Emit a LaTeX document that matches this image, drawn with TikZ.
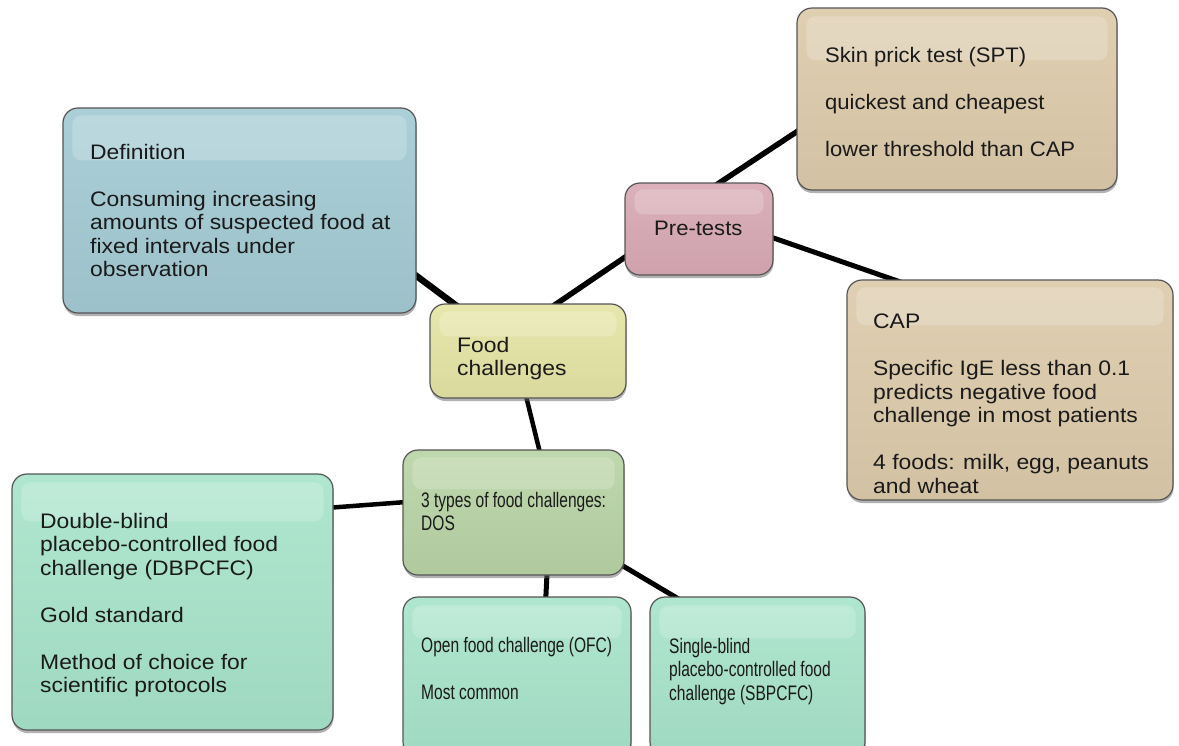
\documentclass[tikz,border=0pt]{standalone}
\usepackage{fontspec}
\setmainfont{Liberation Sans}
\newfontfamily\fW[FakeStretch=1.09]{Liberation Sans}
\newfontfamily\fS[FakeStretch=1.05]{Liberation Sans}
\newfontfamily\fN[FakeStretch=0.74]{Liberation Sans}
\usetikzlibrary{shadows,calc,backgrounds}
\definecolor{boxline}{HTML}{555555}
\definecolor{textc}{HTML}{1A1A1A}
\definecolor{cblue}{HTML}{A4CBD4}
\definecolor{cyel}{HTML}{E5E5A6}
\definecolor{cpink}{HTML}{D9AAB5}
\definecolor{ctan}{HTML}{DDCBAB}
\definecolor{cgreen}{HTML}{B9D4A6}
\definecolor{cmint}{HTML}{A8E4CB}
\begin{document}
\begin{tikzpicture}[x=1pt,y=-1pt,
  box/.style={draw=boxline, line width=1.2pt, rounded corners=15pt, inner sep=0pt,
    top color=#1!92!white, bottom color=#1!95!black,
    drop shadow={shadow xshift=0.5pt, shadow yshift=-3pt, opacity=0.5, fill=black!60}},
  gloss/.style={fill=white, fill opacity=0.2, rounded corners=9pt},
  conn/.style={line width=5.5pt, draw=black},
  txt/.style={inner sep=0pt, anchor=north west, align=left, text=textc},
  fw/.style={font=\fW\fontsize{21}{23.5}\selectfont},
  fs/.style={font=\fS\fontsize{21}{23.5}\selectfont},
  fn/.style={font=\fN\fontsize{21}{23.5}\selectfont}]
\useasboundingbox (0,0) rectangle (1179,745);

% boxes
\node[box=cblue, minimum width=353pt, minimum height=205pt] (def) at (239.5,210.5) {};
\node[box=cyel, minimum width=196pt, minimum height=94pt] (food) at (528,351) {};
\node[box=cpink, minimum width=148pt, minimum height=92pt] (pre) at (699,229) {};
\node[box=ctan, minimum width=320pt, minimum height=182pt] (spt) at (957,99) {};
\node[box=ctan, minimum width=326pt, minimum height=220pt] (cap) at (1010,390) {};
\node[box=cgreen, minimum width=221pt, minimum height=125pt] (t3) at (513.5,512.5) {};
\node[box=cmint, minimum width=321pt, minimum height=256pt] (db) at (172.5,602) {};
\node[box=cmint, minimum width=228pt, minimum height=160pt] (ofc) at (517,677) {};
\node[box=cmint, minimum width=215pt, minimum height=160pt] (sb) at (757.5,677) {};

% gloss bands
\fill[gloss] ($(def.north west)+(10,8)$) rectangle ($(def.north east)+(-10,53)$);
\fill[gloss] ($(food.north west)+(10,8)$) rectangle ($(food.north east)+(-10,33)$);
\fill[gloss] ($(pre.north west)+(10,7)$) rectangle ($(pre.north east)+(-10,32)$);
\fill[gloss] ($(spt.north west)+(10,9)$) rectangle ($(spt.north east)+(-10,53)$);
\fill[gloss] ($(cap.north west)+(10,8)$) rectangle ($(cap.north east)+(-10,46)$);
\fill[gloss] ($(t3.north west)+(10,8)$) rectangle ($(t3.north east)+(-10,40)$);
\fill[gloss] ($(db.north west)+(10,9)$) rectangle ($(db.north east)+(-10,48)$);
\fill[gloss] ($(ofc.north west)+(10,9)$) rectangle ($(ofc.north east)+(-10,42)$);
\fill[gloss] ($(sb.north west)+(10,9)$) rectangle ($(sb.north east)+(-10,42)$);

% texts
\node[txt, fw] (def-t) at (90,144) {Definition\\[23.5pt]Consuming increasing\\amounts of suspected food at\\fixed intervals under\\observation};
\node[txt, fw] (food-t) at (457,337) {Food\\challenges};
\node[txt, fs] (pre-t) at (654,221) {Pre-tests};
\node[txt, fs] (spt-t) at (825,47) {Skin prick test (SPT)\\[23.5pt]quickest and cheapest\\[23.5pt]lower threshold than CAP};
\node[txt, fw] (cap-t) at (873,314) {CAP\\[23.5pt]Specific IgE less than 0.1\\predicts negative food\\challenge in most patients\\[23.5pt]4 foods: milk, egg, peanuts\\and wheat};
\node[txt, fn] (t3-t) at (421,492) {3 types of food challenges:\\DOS};
\node[txt, fw] (db-t) at (40,513) {Double-blind\\placebo-controlled food\\challenge (DBPCFC)\\[23.5pt]Gold standard\\[23.5pt]Method of choice for\\scientific protocols};
\node[txt, fn] (ofc-t) at (421,637) {Open food challenge (OFC)\\[23.5pt]Most common};
\node[txt, fn] (sb-t) at (669,638) {Single-blind\\placebo-controlled food\\challenge (SBPCFC)};

% connectors (behind the boxes)
\begin{scope}[on background layer]
\fill[white] (0,0) rectangle (1179,745);
\draw[conn, line width=6.5pt] ($(def.south east)+(-30,-60)$) -- ($(food.north west)+(40,12)$);
\draw[conn] ($(food.north west)+(110,12)$) -- ($(pre.north west)+(15,65)$);
\draw[conn] ($(pre.north west)+(82,9)$) -- ($(spt.north west)+(16,114)$);
\draw[conn, line width=5pt] ($(pre.north west)+(133,50)$) -- ($(cap.north west)+(61,5)$);
\draw[conn, line width=4.5pt] ($(food.south west)+(94,-13)$) -- ($(t3.north west)+(140,13)$);
\draw[conn, line width=4.5pt] ($(t3.north west)+(12,52)$) -- ($(db.north east)+(-13,35)$);
\draw[conn, line width=5pt] ($(t3.south west)+(145,-10)$) -- ($(ofc.north west)+(143,10)$);
\draw[conn, line width=5pt] ($(t3.south east)+(-19,-20)$) -- ($(sb.north west)+(40,9)$);
\end{scope}
\end{tikzpicture}
\end{document}
